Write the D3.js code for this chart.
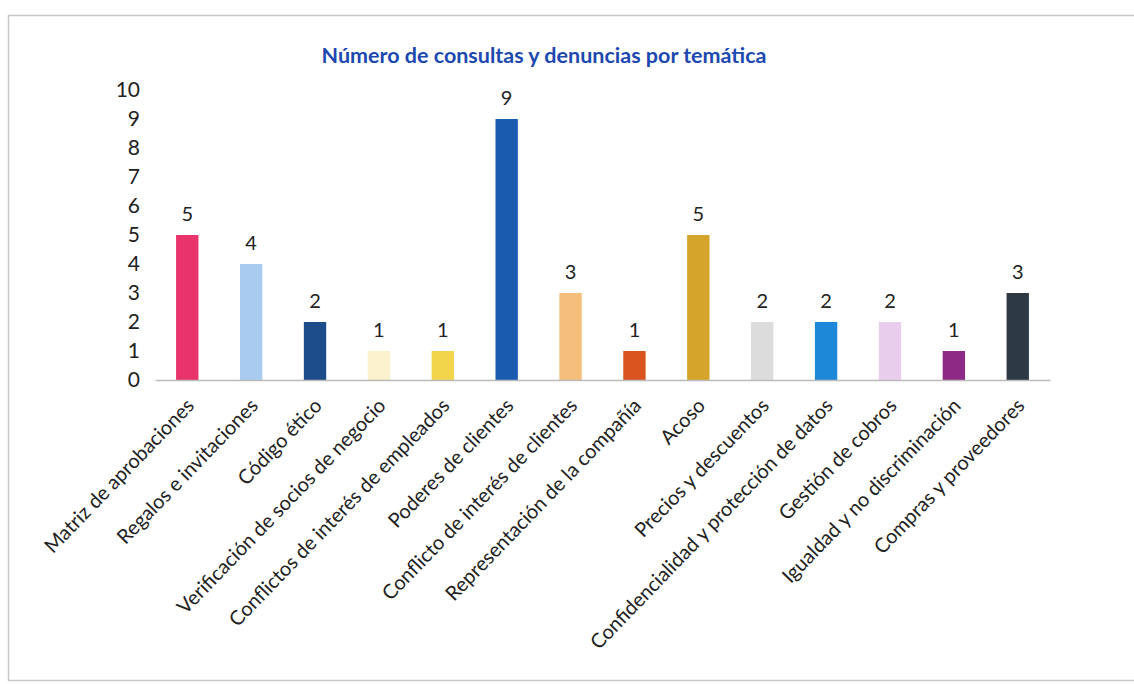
<!DOCTYPE html>
<html>
<head>
<meta charset="utf-8">
<script src="https://cdn.jsdelivr.net/npm/d3@7"></script>
<style>
  body { margin: 0; background: #fff; }
  svg text { font-family: Lato, "Open Sans", sans-serif; }
</style>
</head>
<body>
<div id="container"></div>
<script>
const categories = [
  "Matriz de aprobaciones", "Regalos e invitaciones", "Código ético",
  "Verificación de socios de negocio", "Conflictos de interés de empleados",
  "Poderes de clientes", "Conflicto de interés de clientes",
  "Representación de la compañía", "Acoso", "Precios y descuentos",
  "Confidencialidad y protección de datos", "Gestión de cobros",
  "Igualdad y no discriminación", "Compras y proveedores"
];
const values = [5, 4, 2, 1, 1, 9, 3, 1, 5, 2, 2, 2, 1, 3];
const colors = [
  "#e8336b", "#a9cbef", "#1c4c8a", "#fbf1cc", "#f2d54a", "#1a5bb0", "#f5be7a",
  "#d9541e", "#d4a52a", "#dcdcdc", "#1e88d8", "#e8cdec", "#8c2a86", "#2d3a44"
];
const yTicks = [0, 1, 2, 3, 4, 5, 6, 7, 8, 9, 10];
const title = "Número de consultas y denuncias por temática";

const totalWidth = 1134;
const totalHeight = 684;

const svg = d3.select("#container")
  .append("svg")
  .attr("width", totalWidth)
  .attr("height", totalHeight);

// frame
svg.append("rect")
  .attr("x", 8.5).attr("y", 15.5)
  .attr("width", 1140).attr("height", 665)
  .attr("fill", "none")
  .attr("stroke", "#c8c8c8")
  .attr("stroke-width", 1.5);

const xScale = d3.scaleBand()
  .domain(categories)
  .range([155, 1050])
  .paddingInner(0.65)
  .paddingOuter(0.33);

const yScale = d3.scaleLinear()
  .domain([0, 10])
  .range([380, 90]);

// title
svg.append("text")
  .attr("x", 544)
  .attr("y", 63)
  .attr("text-anchor", "middle")
  .attr("font-size", 21.5)
  .attr("font-weight", "bold")
  .attr("fill", "#1c48b0")
  .text(title);

// y axis labels (no line, no ticks)
const yAxis = svg.append("g")
  .attr("transform", "translate(140,0)")
  .call(d3.axisLeft(yScale).tickValues(yTicks).tickSize(0).tickPadding(0));
yAxis.select(".domain").remove();
yAxis.selectAll("text")
  .attr("font-size", 21)
  .attr("font-family", "Lato, sans-serif")
  .attr("fill", "#222");

// bars
svg.selectAll("rect.bar")
  .data(values)
  .enter()
  .append("rect")
  .attr("class", "bar")
  .attr("x", (d, i) => xScale(categories[i]))
  .attr("y", d => yScale(d))
  .attr("width", xScale.bandwidth())
  .attr("height", d => yScale(0) - yScale(d))
  .attr("fill", (d, i) => colors[i]);

// value labels
svg.selectAll("text.value")
  .data(values)
  .enter()
  .append("text")
  .attr("class", "value")
  .attr("x", (d, i) => xScale(categories[i]) + xScale.bandwidth() / 2)
  .attr("y", d => yScale(d) - 14)
  .attr("text-anchor", "middle")
  .attr("font-size", 20)
  .attr("fill", "#222")
  .text(d => d);

// x axis
const xAxis = svg.append("g")
  .attr("transform", `translate(0,${yScale(0)})`)
  .call(d3.axisBottom(xScale).tickSize(0).tickPadding(0));
xAxis.select(".domain")
  .attr("stroke", "#bbb")
  .attr("stroke-width", 1.5);
xAxis.selectAll(".tick text")
  .attr("font-size", 20)
  .attr("font-family", "Lato, sans-serif")
  .attr("fill", "#222")
  .attr("text-anchor", "end")
  .attr("dy", "0.35em")
  .attr("transform", "translate(3,22) rotate(-46)");
</script>
</body>
</html>
